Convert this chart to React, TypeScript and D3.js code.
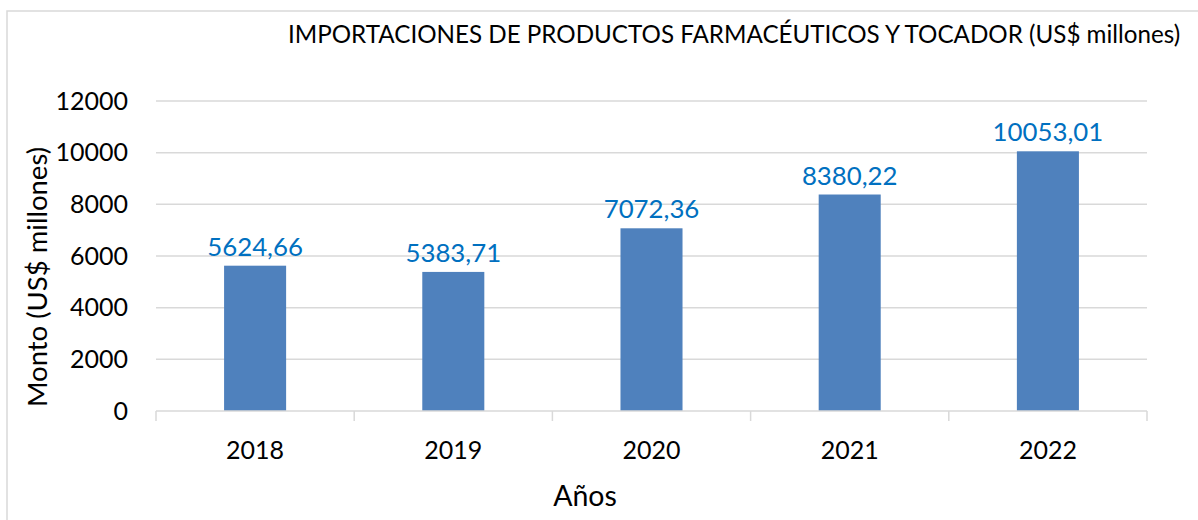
import React from "react";
import * as d3 from "d3";

const years = ["2018", "2019", "2020", "2021", "2022"];
const values = [5624.66, 5383.71, 7072.36, 8380.22, 10053.01];
const labels = ["5624,66", "5383,71", "7072,36", "8380,22", "10053,01"];
const yTicks = [0, 2000, 4000, 6000, 8000, 10000, 12000];

const W = 1198;
const H = 520;
const FONT = "Lato, 'Open Sans', sans-serif";

export default function App() {
  const left = 156;
  const right = 1147;
  const top = 101;
  const bottom = 411;
  const p = 0.687;
  const x = d3.scaleBand<string>().domain(years).range([left, right]).paddingInner(p).paddingOuter(p / 2);
  const y = d3.scaleLinear().domain([0, 12000]).range([bottom, top]);
  const step = x.step();
  const grid = "#d9d9d9";
  return (
    <div style={{ position: "fixed", left: 0, top: 0 }}>
      <svg width={W} height={H} style={{ display: "block", background: "#fff" }}>
        <rect x={7} y={11} width={W + 20} height={H + 20} fill="#fff" stroke={grid} strokeWidth={1.5} />
        <text x={288} y={43} fontFamily={FONT} fontSize={24.2} fill="#000">
          IMPORTACIONES DE PRODUCTOS FARMACÉUTICOS Y TOCADOR (US$ millones)
        </text>
        {yTicks.filter((t) => t > 0).map((t) => (
          <line key={"g" + t} x1={left} x2={right} y1={y(t)} y2={y(t)} stroke={grid} strokeWidth={1.5} />
        ))}
        {yTicks.map((t) => (
          <text key={"t" + t} x={128} y={y(t)} dy="0.35em" textAnchor="end" fontFamily={FONT} fontSize={25} fill="#000">
            {t}
          </text>
        ))}
        {years.map((yr, i) => (
          <rect key={yr} x={x(yr)} y={y(values[i])} width={x.bandwidth()} height={bottom - y(values[i])} fill="#4f81bd" />
        ))}
        {years.map((yr, i) => (
          <text key={"l" + yr} x={(x(yr) as number) + x.bandwidth() / 2} y={y(values[i]) - 10} textAnchor="middle" fontFamily={FONT} fontSize={25.8} fill="#0070c0">
            {labels[i]}
          </text>
        ))}
        <line x1={left} x2={right} y1={bottom} y2={bottom} stroke={grid} strokeWidth={1.5} />
        {d3.range(years.length + 1).map((k) => (
          <line key={"tk" + k} x1={left + k * step} x2={left + k * step} y1={bottom} y2={bottom + 10} stroke={grid} strokeWidth={1.5} />
        ))}
        {years.map((yr) => (
          <text key={"x" + yr} x={(x(yr) as number) + x.bandwidth() / 2} y={459} textAnchor="middle" fontFamily={FONT} fontSize={25} fill="#000">
            {yr}
          </text>
        ))}
        <text x={585} y={506} textAnchor="middle" fontFamily={FONT} fontSize={28.5} fill="#000">
          Años
        </text>
        <text transform="translate(47,277) rotate(-90)" textAnchor="middle" fontFamily={FONT} fontSize={27.5} fill="#000">
          Monto (US$ millones)
        </text>
      </svg>
    </div>
  );
}
